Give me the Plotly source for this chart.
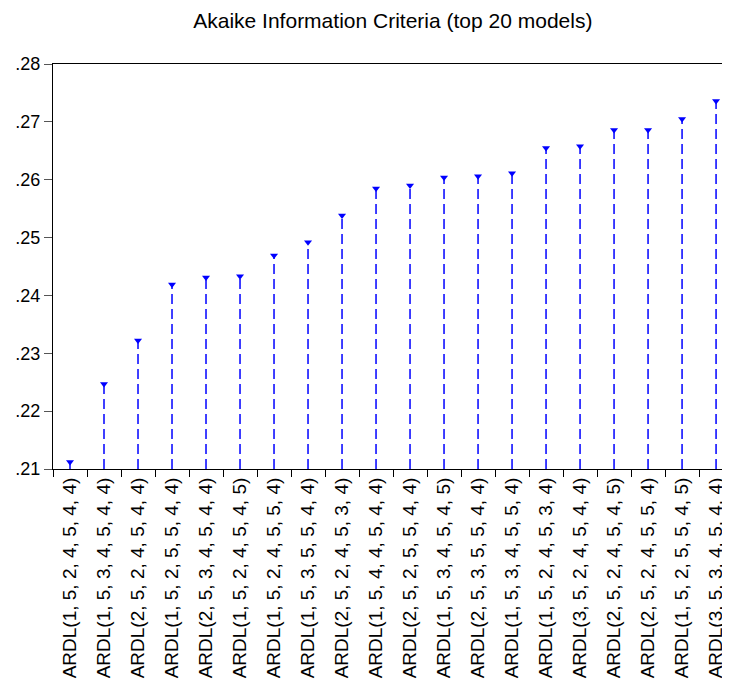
import plotly.graph_objects as go

models = [
    "ARDL(1, 5, 2, 4, 5, 4, 4)",
    "ARDL(1, 5, 3, 4, 5, 4, 4)",
    "ARDL(2, 5, 2, 4, 5, 4, 4)",
    "ARDL(1, 5, 2, 5, 5, 4, 4)",
    "ARDL(2, 5, 3, 4, 5, 4, 4)",
    "ARDL(1, 5, 2, 4, 5, 4, 5)",
    "ARDL(1, 5, 2, 4, 5, 5, 4)",
    "ARDL(1, 5, 3, 5, 5, 4, 4)",
    "ARDL(2, 5, 2, 4, 5, 3, 4)",
    "ARDL(1, 5, 4, 4, 5, 4, 4)",
    "ARDL(2, 5, 2, 5, 5, 4, 4)",
    "ARDL(1, 5, 3, 4, 5, 4, 5)",
    "ARDL(2, 5, 3, 5, 5, 4, 4)",
    "ARDL(1, 5, 3, 4, 5, 5, 4)",
    "ARDL(1, 5, 2, 4, 5, 3, 4)",
    "ARDL(3, 5, 2, 4, 5, 4, 4)",
    "ARDL(2, 5, 2, 4, 5, 4, 5)",
    "ARDL(2, 5, 2, 4, 5, 5, 4)",
    "ARDL(1, 5, 2, 5, 5, 4, 5)",
    "ARDL(3, 5, 3, 4, 5, 4, 4)",
]
aic = [0.2112, 0.2247, 0.2322, 0.2419, 0.2431, 0.2433, 0.2469, 0.2492, 0.2538, 0.2585,
       0.2590, 0.2604, 0.2606, 0.2611, 0.2655, 0.2658, 0.2686, 0.2686, 0.2705, 0.2736]
base = 0.21
y_ticks = [0.21, 0.22, 0.23, 0.24, 0.25, 0.26, 0.27, 0.28]
y_tick_labels = [".21", ".22", ".23", ".24", ".25", ".26", ".27", ".28"]

sx, sy = [], []
for m, v in zip(models, aic):
    sx += [m, m, None]
    sy += [base, v, None]

fig = go.Figure()
fig.add_trace(go.Scatter(x=sx, y=sy, mode="lines",
                         line=dict(color="#0000ff", width=1.5, dash="10px,5px"),
                         hoverinfo="skip", showlegend=False))
fig.add_trace(go.Scatter(x=models, y=aic, mode="markers",
                         marker=dict(symbol="triangle-down", size=7, color="#0000ff"),
                         showlegend=False))

fig.update_layout(
    width=722, height=676,
    margin=dict(l=45, r=0, t=56, b=215),
    paper_bgcolor="white", plot_bgcolor="white",
    font=dict(family="Liberation Sans, Arial, sans-serif", color="black"),
    title=dict(text="Akaike Information Criteria (top 20 models)", x=0.533, xanchor="center",
               y=0.982, yanchor="middle", font=dict(size=21)),
)
fig.update_xaxes(type="category", categoryorder="array", categoryarray=models,
                 range=[-0.5, 19.41], tickson="boundaries", ticks="outside", ticklen=7,
                 tickcolor="black", showline=True, linecolor="black", linewidth=1.2,
                 mirror=True, showgrid=False, tickangle=-90, tickfont=dict(size=19))
fig.update_yaxes(range=[0.21, 0.28], tickvals=y_ticks, ticktext=y_tick_labels,
                 ticks="outside", ticklen=8, tickcolor="#555555", showline=True,
                 linecolor="black", linewidth=1.2, showgrid=False, zeroline=False,
                 tickfont=dict(size=18))

fig.write_html("out.html")
